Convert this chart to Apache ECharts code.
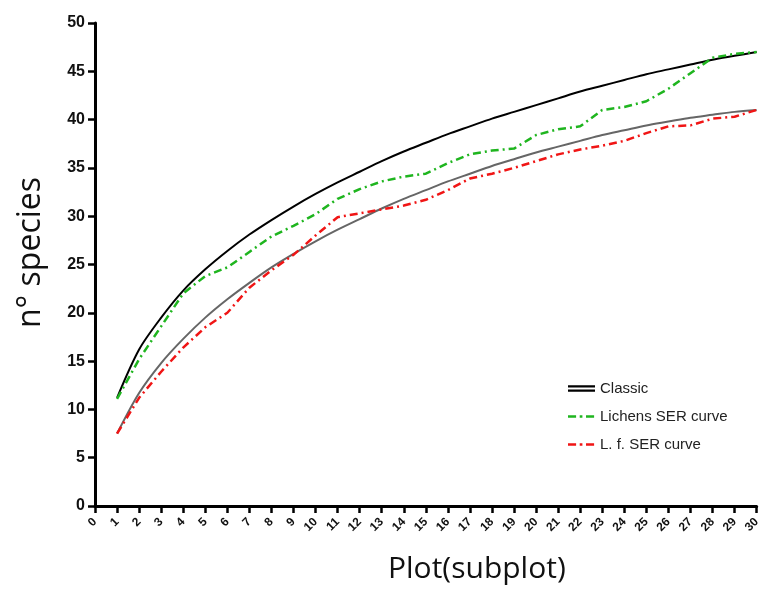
<!DOCTYPE html>
<html>
<head>
<meta charset="utf-8">
<script src="https://cdn.jsdelivr.net/npm/echarts@6/dist/echarts.min.js"></script>
<style>
html,body{margin:0;padding:0;background:#fff;}
#chart{width:763px;height:590px;}
</style>
</head>
<body>
<div id="chart"></div>
<script>
const plots = [1,2,3,4,5,6,7,8,9,10,11,12,13,14,15,16,17,18,19,20,21,22,23,24,25,26,27,28,29,30];
const classicUpper = [11.2,16.2,19.5,22.3,24.5,26.4,28.1,29.6,31.0,32.3,33.5,34.6,35.7,36.7,37.6,38.5,39.3,40.1,40.8,41.5,42.2,42.9,43.5,44.1,44.7,45.2,45.7,46.2,46.6,47.0];
const classicLower = [7.5,11.7,14.8,17.3,19.5,21.4,23.1,24.7,26.1,27.4,28.6,29.7,30.8,31.8,32.7,33.6,34.4,35.2,35.9,36.6,37.2,37.8,38.4,38.9,39.4,39.8,40.2,40.5,40.8,41.0];
const lichensSER = [11.1,15.2,18.6,22.0,23.8,24.7,26.3,27.9,29.0,30.2,31.8,32.8,33.6,34.1,34.4,35.5,36.4,36.8,37.0,38.4,39.0,39.3,41.0,41.3,41.9,43.2,44.8,46.4,46.8,47.0];
const lfSER = [7.5,11.2,13.9,16.4,18.5,20.0,22.6,24.4,26.0,28.0,29.9,30.3,30.7,31.1,31.7,32.7,33.9,34.4,35.0,35.7,36.4,36.9,37.3,37.8,38.6,39.3,39.4,40.1,40.3,41.0];
const yTicks = [0,5,10,15,20,25,30,35,40,45,50];
const xTicks = Array.from({length:31},(_,i)=>i);

const pair = arr => plots.map((p,i)=>[p,arr[i]]);
const chart = echarts.init(document.getElementById('chart'));
const dashDot = [8,4,2,4];
const dashDotIcon = 'path://M0,0 M30,10 M0,3.5H9V6.5H0Z M13,3.5H16V6.5H13Z M20,3.5H29V6.5H20Z';
chart.setOption({
  animation:false,
  backgroundColor:'#fff',
  grid:{left:95,right:2,top:23,bottom:84,containLabel:false},
  title:{text:'Plot(subplot)',left:383,top:549,textStyle:{fontFamily:'Open Sans',fontWeight:'normal',fontSize:30,color:'#111'}},
  legend:{
    orient:'vertical',left:563,top:376,itemWidth:27,itemHeight:9,itemGap:13,
    textStyle:{fontFamily:'Liberation Sans',fontSize:15,color:'#222'},
    data:[
      {name:'Classic',icon:'path://M0,0 M30,10 M0,1.5H30V4H0Z M0,6H30V8.5H0Z'},
      {name:'Lichens SER curve',icon:dashDotIcon},
      {name:'L. f. SER curve',icon:dashDotIcon}
    ]
  },
  xAxis:{
    type:'value',min:0,max:30,interval:1,
    axisLine:{lineStyle:{color:'#000',width:3}},
    axisTick:{show:true,length:7,lineStyle:{color:'#000',width:2.5}},
    splitLine:{show:false},
    axisLabel:{rotate:45,fontFamily:'Liberation Sans',fontWeight:'bold',fontSize:12,color:'#111',margin:14,
      formatter:v=>xTicks.includes(v)?String(v):''}
  },
  yAxis:{
    type:'value',min:0,max:50,interval:5,
    name:'n° species',nameLocation:'middle',nameGap:48,
    nameTextStyle:{fontFamily:'Open Sans',fontSize:32,color:'#111',padding:[0,0,0,24]},
    axisLine:{show:true,lineStyle:{color:'#000',width:3}},
    axisTick:{show:true,length:7,lineStyle:{color:'#000',width:2.5}},
    splitLine:{show:false},
    axisLabel:{fontFamily:'Liberation Sans',fontWeight:'bold',fontSize:16,color:'#111',margin:10,
      formatter:v=>yTicks.includes(v)?String(v):''}
  },
  series:[
    {name:'Classic',type:'line',data:pair(classicUpper),symbol:'none',smooth:0.3,
      lineStyle:{color:'#000',width:2},itemStyle:{color:'#000'}},
    {name:'Classic',type:'line',data:pair(classicLower),symbol:'none',smooth:0.3,
      lineStyle:{color:'#666',width:2},itemStyle:{color:'#666'}},
    {name:'Lichens SER curve',type:'line',data:pair(lichensSER),symbol:'none',
      lineStyle:{color:'#1fb51f',width:2.5,type:dashDot},itemStyle:{color:'#1fb51f'}},
    {name:'L. f. SER curve',type:'line',data:pair(lfSER),symbol:'none',
      lineStyle:{color:'#f01515',width:2.5,type:dashDot},itemStyle:{color:'#f01515'}}
  ]
});
</script>
</body>
</html>
